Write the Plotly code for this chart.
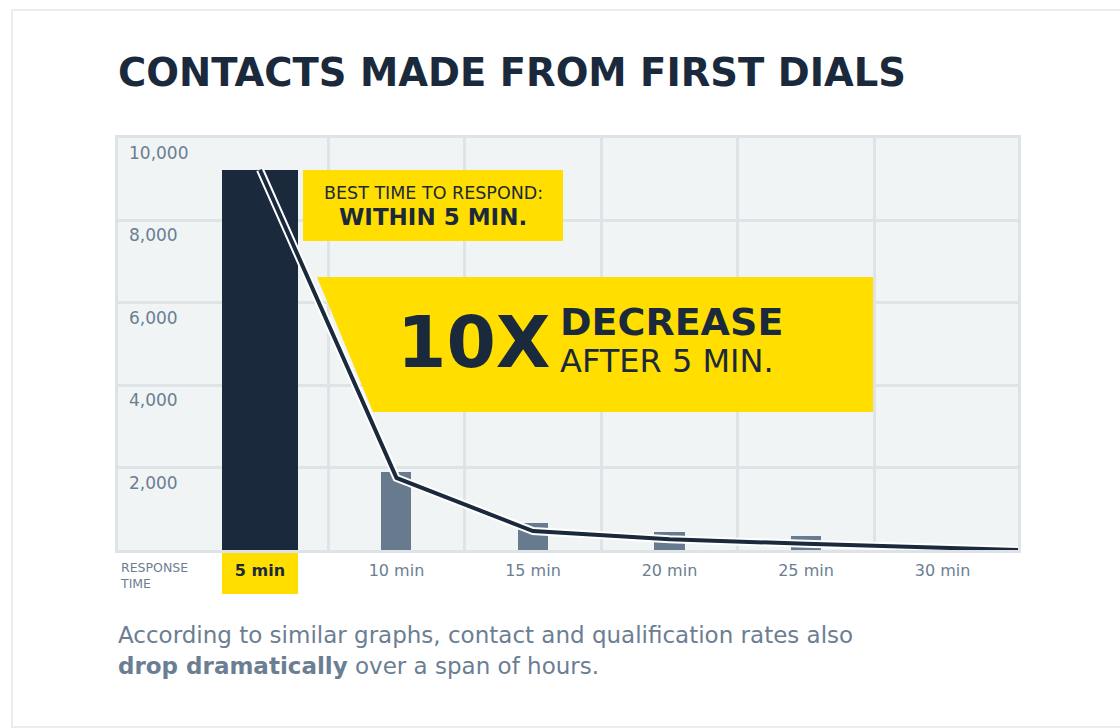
import plotly.graph_objects as go

# Contacts made from first dials, by response time
CATEGORIES = ['5 min', '10 min', '15 min', '20 min', '25 min', '30 min']
CONTACTS = [9230, 1900, 650, 440, 340, 50]

# trend line (runs on past the last category to the edge of the chart)
TREND_X = [0, 1, 2, 3, 4, 5, 5.56]
TREND_Y = [9230, 1750, 460, 260, 150, 50, 0]

Y_TICKS = [0, 2000, 4000, 6000, 8000, 10000]
Y_LABELS = ['', '2,000', '4,000', '6,000', '8,000', '10,000']

COLORS = {
    'navy': '#1a2a3c',
    'slate': '#687b8e',
    'text': '#6b7e92',
    'yellow': '#ffde00',
    'plot_bg': '#f0f4f5',
    'grid': '#dde3e6',
    'card': '#ececec',
}

FONT = 'DejaVu Sans'

W, H = 1120, 728
# plot area in page pixels
L, R, T, B = 118, 1018, 138, 550
X_RANGE = [-1.04, 5.553]
Y_RANGE = [0, 10000]


def px(x):
    return (x - L) / (R - L)


def py(y):
    return (B - y) / (B - T)


xpos = list(range(len(CATEGORIES)))
widths = [0.557] + [0.22] * (len(CATEGORIES) - 1)
bar_colors = [COLORS['navy']] + [COLORS['slate']] * (len(CATEGORIES) - 1)

fig = go.Figure()

fig.add_trace(go.Bar(
    x=xpos, y=CONTACTS, width=widths,
    marker=dict(color=bar_colors, line=dict(width=0)),
    hoverinfo='skip', showlegend=False,
))

# white outline under the trend line
fig.add_trace(go.Scatter(
    x=TREND_X, y=TREND_Y, mode='lines',
    line=dict(color='white', width=8), hoverinfo='skip', showlegend=False,
))

fig.add_trace(go.Scatter(
    x=TREND_X, y=TREND_Y, mode='lines',
    line=dict(color=COLORS['navy'], width=4), hoverinfo='skip', showlegend=False,
))

tick_text = ["<b><span style='color:%s'>%s</span></b>" % (COLORS['navy'], CATEGORIES[0])] + CATEGORIES[1:]
grid_x = [i + 0.5 for i in xpos[:-1]]

fig.update_layout(
    width=W, height=H,
    margin=dict(l=L, r=W - R, t=T, b=H - B),
    paper_bgcolor='white',
    plot_bgcolor=COLORS['plot_bg'],
    bargap=0,
    xaxis=dict(
        range=X_RANGE, tickvals=xpos, ticktext=tick_text,
        tickfont=dict(family=FONT, size=16, color=COLORS['text']),
        ticklabelstandoff=4,
        showgrid=False, zeroline=False, ticks='',
        showline=True, linecolor=COLORS['grid'], linewidth=3, mirror=True,
        minor=dict(tickvals=grid_x, showgrid=True, gridcolor=COLORS['grid'], gridwidth=3, ticks=''),
        fixedrange=True,
    ),
    yaxis=dict(
        range=Y_RANGE, tickvals=Y_TICKS, showticklabels=False,
        showgrid=True, gridcolor=COLORS['grid'], gridwidth=3, zeroline=False, ticks='',
        showline=True, linecolor=COLORS['grid'], linewidth=3, mirror=True,
        fixedrange=True,
    ),
)

shapes = [
    # card outline (right edge runs off the page)
    dict(type='rect', xref='paper', yref='paper', x0=px(12), x1=px(1400), y0=py(727), y1=py(10),
         line=dict(color=COLORS['card'], width=2), fillcolor='rgba(0,0,0,0)', layer='below'),
    # "best time" box
    dict(type='rect', xref='paper', yref='paper', x0=px(303), x1=px(563), y0=py(241), y1=py(170),
         line=dict(width=0), fillcolor=COLORS['yellow']),
    # 10x callout
    dict(type='path', xref='paper', yref='paper',
         path='M %f,%f L %f,%f L %f,%f L %f,%f Z' % (px(317), py(277), px(873), py(277),
                                                      px(873), py(412), px(373), py(412)),
         line=dict(width=0), fillcolor=COLORS['yellow']),
    # highlight under the "5 min" label
    dict(type='rect', xref='x', yref='paper', x0=-widths[0] / 2, x1=widths[0] / 2,
         y0=py(594), y1=py(551), line=dict(width=0), fillcolor=COLORS['yellow'], layer='below'),
]
fig.update_layout(shapes=shapes)


def note(text, x, y, size, color=COLORS['navy'], xanchor='left', weight='normal'):
    fig.add_annotation(
        text=text, xref='paper', yref='paper', x=px(x), y=py(y),
        xanchor=xanchor, yanchor='middle', align='left' if xanchor == 'left' else 'center',
        showarrow=False,
        font=dict(family=FONT, size=size, color=color, weight=weight),
    )


# y tick labels sit just under their gridlines, inside the plot
for val, lab in zip(Y_TICKS, Y_LABELS):
    if lab:
        fig.add_annotation(
            text=lab, xref='paper', yref='y', x=px(127), y=val, yshift=-15,
            xanchor='left', yanchor='middle', showarrow=False,
            font=dict(family=FONT, size=17, color=COLORS['text']),
        )

note('CONTACTS MADE FROM FIRST DIALS', 116, 72, 38.5, weight='bold')

note('BEST TIME TO RESPOND:', 433, 193, 17.5, xanchor='center')
note('WITHIN 5 MIN.', 433, 217, 23, xanchor='center', weight='bold')

note('10X', 395, 342, 71, weight='bold')
note('DECREASE', 558, 322, 38, weight='bold')
note('AFTER 5 MIN.', 558, 361, 32)

note('RESPONSE<br>TIME', 118, 575, 12.5, color=COLORS['text'])

note('According to similar graphs, contact and qualification rates also', 116, 635, 23,
     color=COLORS['text'])
note('<b>drop dramatically</b> over a span of hours.', 116, 666, 23,
     color=COLORS['text'])

# drop the default page margin so the figure fills the window exactly
fig.write_html("out.html", config={'displayModeBar': False},
               post_script="document.body.style.margin='0';document.body.style.overflow='hidden';")
